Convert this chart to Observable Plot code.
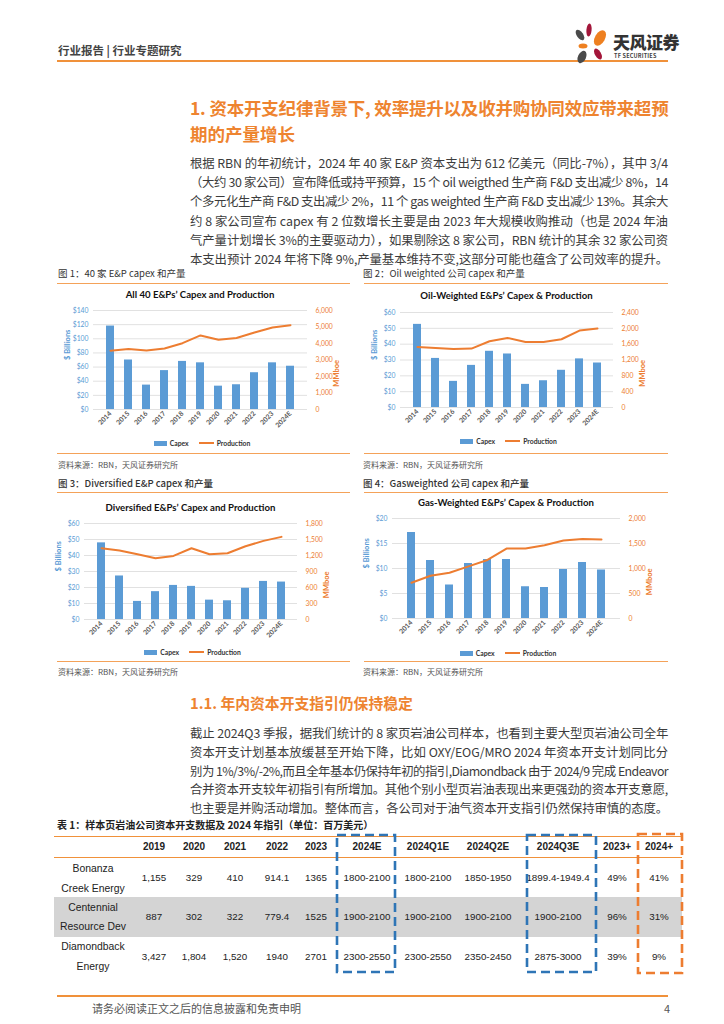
<!DOCTYPE html>
<html><head><meta charset="utf-8">
<script src="https://cdn.jsdelivr.net/npm/d3@7"></script>
<script src="https://cdn.jsdelivr.net/npm/@observablehq/plot@0.6"></script>
<style>
body{margin:0;background:#fff;}
#page{position:relative;width:724px;height:1024px;overflow:hidden;font-family:"Noto Sans CJK SC","Noto Sans",sans-serif;color:#3a3a3a;background:#fff;}
.abs{position:absolute;white-space:nowrap;}
.rule{position:absolute;height:0;}
.pline{position:absolute;left:190px;width:478px;font-size:12.4px;white-space:nowrap;text-align:justify;text-align-last:justify;color:#3c3c3c;line-height:16px;}
.tline{position:absolute;left:190px;width:478px;font-size:17.5px;font-weight:700;white-space:nowrap;color:#EE8430;line-height:22px;}
.cap{position:absolute;font-size:9.5px;color:#333;white-space:nowrap;line-height:12px;}
.src{position:absolute;font-size:8px;color:#555;white-space:nowrap;line-height:10px;}
.ctitle{position:absolute;width:300px;text-align:center;font-family:Lato,"Open Sans",sans-serif;font-weight:700;font-size:9.6px;color:#111;line-height:12px;}
.legend{position:absolute;width:200px;display:flex;justify-content:center;align-items:center;font-family:Lato,"Open Sans",sans-serif;font-size:6.8px;color:#333;font-weight:700;line-height:8px;}
.sw{display:inline-block;width:13px;height:5px;background:#5B9BD5;margin-right:3px;}
.ln{display:inline-block;width:15px;height:2px;background:#ED7D31;margin-right:3px;margin-left:10px;}
.chart{position:absolute;}
.cell{position:absolute;font-family:"Liberation Sans",Arial,sans-serif;font-size:9.8px;color:#222;white-space:nowrap;transform:translate(-50%,-50%);line-height:12px;}
.hcell{font-weight:700;font-size:10px;}
</style></head>
<body><div id="page"></div>
<script>
// ---------- data ----------
const years = ["2014","2015","2016","2017","2018","2019","2020","2021","2022","2023","2024E"];
const allCapex = [118,70,34.5,55,68,66,33,35,52,66,61.2];
const allProd  = [3560,3660,3580,3700,4020,4490,4230,4330,4670,4970,5110];
const oilCapex = [52.5,31,16.5,26.6,35.5,33.8,14.6,16.9,23.5,30.7,28.1];
const oilProd  = [1530,1505,1480,1488,1674,1758,1657,1657,1724,1944,1995];
const divCapex = [47.9,27.2,11.3,17.4,21.3,20.7,12.1,11.7,19.5,23.8,23.4];
const divProd  = [1336,1292,1223,1148,1192,1336,1223,1242,1374,1474,1549];
const gasCapex = [17.2,11.6,6.7,11.0,11.8,11.8,6.35,6.2,9.8,11.2,9.7];
const gasProd  = [716,856,916,1043,1171,1398,1398,1465,1559,1592,1579];

const allLeftTicks = [0,20,40,60,80,100,120,140];
const allRightTicks = [0,1000,2000,3000,4000,5000,6000];
const oilLeftTicks = [0,10,20,30,40,50,60];
const oilRightTicks = [0,400,800,1200,1600,2000,2400];
const divLeftTicks = [0,10,20,30,40,50,60];
const divRightTicks = [0,300,600,900,1200,1500,1800];
const gasLeftTicks = [0,5,10,15,20];
const gasRightTicks = [0,500,1000,1500,2000];

const chartTitles = ["All 40 E&Ps’ Capex and Production","Oil-Weighted E&Ps’ Capex & Production","Diversified E&Ps’ Capex and Production","Gas-Weighted E&Ps’ Capex & Production"];
const figCaptions = ["图 1：40 家 E&P capex 和产量","图 2：Oil weighted  公司 capex 和产量","图 3：Diversified E&P capex 和产量","图 4：Gasweighted 公司 capex 和产量"];
const sourceText = "资料来源：RBN，天风证券研究所";

const tableCaption = "表 1：样本页岩油公司资本开支数据及 2024 年指引（单位：百万美元）";
const tableHeaders = ["2019","2020","2021","2022","2023","2024E","2024Q1E","2024Q2E","2024Q3E","2023+","2024+"];
const companies = [["Bonanza","Creek Energy"],["Centennial","Resource Dev"],["Diamondback","Energy"]];
const rowBonanza = ["1,155","329","410","914.1","1365","1800-2100","1800-2100","1850-1950","1899.4-1949.4","49%","41%"];
const rowCentennial = ["887","302","322","779.4","1525","1900-2100","1900-2100","1900-2100","1900-2100","96%","31%"];
const rowDiamondback = ["3,427","1,804","1,520","1940","2701","2300-2550","2300-2550","2350-2450","2875-3000","39%","9%"];

const para1 = [
 "根据 RBN 的年初统计，2024 年 40 家 E&P 资本支出为 612 亿美元（同比-7%），其中 3/4",
 "（大约 30 家公司）宣布降低或持平预算，15 个 oil weigthed 生产商 F&D 支出减少 8%，14",
 "个多元化生产商 F&D 支出减少 2%，11 个 gas weighted 生产商 F&D 支出减少 13%。其余大",
 "约 8 家公司宣布 capex 有 2 位数增长主要是由 2023 年大规模收购推动（也是 2024 年油",
 "气产量计划增长 3%的主要驱动力），如果剔除这 8 家公司，RBN 统计的其余 32 家公司资",
 "本支出预计 2024 年将下降 9%,产量基本维持不变,这部分可能也蕴含了公司效率的提升。"
];
const para2 = [
 "截止 2024Q3 季报，据我们统计的 8 家页岩油公司样本，也看到主要大型页岩油公司全年",
 "资本开支计划基本放缓甚至开始下降，比如 OXY/EOG/MRO 2024 年资本开支计划同比分",
 "别为 1%/3%/-2%,而且全年基本仍保持年初的指引,Diamondback 由于 2024/9 完成 Endeavor",
 "合并资本开支较年初指引有所增加。其他个别小型页岩油表现出来更强劲的资本开支意愿,",
 "也主要是并购活动增加。整体而言，各公司对于油气资本开支指引仍然保持审慎的态度。"
];

// ---------- helpers ----------
const page = document.getElementById("page");
function el(tag, cls, style, text){const e=document.createElement(tag); if(cls) e.className=cls; if(style) e.setAttribute("style",style); if(text!=null) e.textContent=text; page.appendChild(e); return e;}
function rule(x0,x1,y,color,w){el("div","rule",`left:${x0}px;width:${x1-x0}px;top:${y}px;border-top:${w}px solid ${color};`);}
// fit a justified line into its box
function fitLine(e){
  const w = 478;
  let fs = parseFloat(getComputedStyle(e).fontSize), ls = 0;
  e.style.textAlignLast = "left";
  while (e.scrollWidth > w && ls > -0.8) { ls -= 0.1; e.style.letterSpacing = ls + "px"; }
  while (e.scrollWidth > w && fs > 10) { fs -= 0.2; e.style.fontSize = fs + "px"; }
  e.style.textAlignLast = "justify";
}

// header
el("div","abs","left:58px;top:43px;font-size:11.5px;font-weight:700;color:#444;line-height:15px;","行业报告 | 行业专题研究");
rule(57,668,60,"#F0913A",2);
const logo = document.createElementNS("http://www.w3.org/2000/svg","svg");
logo.setAttribute("width","44");logo.setAttribute("height","44");
logo.setAttribute("style","position:absolute;left:569px;top:21px;");
logo.innerHTML = `
<ellipse cx="11" cy="14" rx="3.2" ry="6" fill="#4a4a4a" transform="rotate(-35 11 14)"/>
<ellipse cx="20" cy="9" rx="2.6" ry="6.5" fill="#A3163A" transform="rotate(5 20 9)"/>
<ellipse cx="31" cy="17" rx="5" ry="8.5" fill="#EE8020" transform="rotate(30 31 17)"/>
<ellipse cx="14" cy="25" rx="4.5" ry="2.5" fill="#EE8020"/>
<ellipse cx="29" cy="33" rx="3" ry="6" fill="#A3163A" transform="rotate(-30 29 33)"/>
<ellipse cx="13" cy="36" rx="4" ry="6.5" fill="#4a4a4a" transform="rotate(25 13 36)"/>`;
page.appendChild(logo);
el("div","abs","left:613px;top:33px;font-size:17px;font-weight:900;color:#333;letter-spacing:-0.5px;line-height:18px;","天风证券");
el("div","abs","left:614px;top:53px;font-size:5.5px;font-weight:700;color:#444;letter-spacing:0.2px;line-height:6px;","TF SECURITIES");

// title
fitLine(el("div","tline","top:97px;text-align:justify;text-align-last:justify;","1. 资本开支纪律背景下, 效率提升以及收并购协同效应带来超预"));
el("div","tline","top:123px;","期的产量增长");
para1.forEach((t,i)=>fitLine(el("div","pline",`top:${155+i*19.2}px;`,t)));

// figure captions, rules, sources
const fx = [[57,350,58],[364,668,363]];
[[0,274,283,453,465],[1,274,283,453,465],[2,484,492,661,672],[3,484,492,661,672]].forEach(([i,cy,r1,r2,sy])=>{
  const [a,b,tx] = fx[i%2];
  el("div","cap",`left:${tx}px;top:${cy-7}px;${i>=2?"font-weight:500;":""}`,figCaptions[i]);
  rule(a,b,r1,"#F4A259",1.5);
  rule(a,b,r2,"#F4A259",1.5);
  el("div","src",`left:${tx}px;top:${sy-5}px;`,sourceText);
});

// ---------- charts ----------
function makeChart(capex, prod, leftTicks, rightTicks, px0, px1, py0, py1, title, titleY, legendY){
  const lmax = leftTicks[leftTicks.length-1], rmax = rightTicks[rightTicks.length-1], k = lmax/rmax;
  const data = years.map((y,i)=>({year:y, capex:capex[i], prod:prod[i]*k}));
  const mL=40, mR=48, mT=6, mB=30;
  const svg = Plot.plot({
    width:(px1-px0)+mL+mR, height:(py1-py0)+mT+mB,
    marginLeft:mL, marginRight:mR, marginTop:mT, marginBottom:mB,
    style:{fontFamily:"Lato, 'Open Sans', sans-serif", fontSize:"6.8px", background:"transparent", overflow:"visible"},
    x:{domain:years, padding:0.56, label:null, axis:null},
    y:{domain:[0,lmax], label:null, axis:null},
    marks:[
      Plot.gridY(leftTicks,{stroke:"#d9d9d9",strokeOpacity:1,strokeWidth:0.8}),
      Plot.barY(data,{x:"year",y:"capex",fill:"#5B9BD5"}),
      Plot.lineY(data,{x:"year",y:"prod",stroke:"#ED7D31",strokeWidth:2}),
      Plot.axisY(leftTicks,{anchor:"left",tickSize:0,tickPadding:5,tickFormat:d=>"$"+d,fill:"#5B9BD5",label:null}),
      Plot.axisY(rightTicks.map(v=>v*k),{anchor:"right",tickSize:0,tickPadding:8,tickFormat:d=>d3.format(",")(Math.round(d/k)),fill:"#ED7D31",label:null}),
      Plot.axisX({tickSize:0,tickRotate:-45,tickPadding:3,fill:"#595959",label:null,fontWeight:"bold"}),
      Plot.text(["$ Billions"],{frameAnchor:"left",rotate:-90,dx:-26,fill:"#5B9BD5",fontWeight:"bold",fontSize:7.5}),
      Plot.text(["MMboe"],{frameAnchor:"right",rotate:-90,dx:29,fill:"#ED7D31",fontWeight:"bold",fontSize:7.5})
    ]
  });
  svg.setAttribute("class","chart");
  svg.style.left=(px0-mL)+"px"; svg.style.top=(py0-mT)+"px"; svg.style.position="absolute";
  page.appendChild(svg);
  const cx=(px0+px1)/2;
  el("div","ctitle",`left:${cx-150}px;top:${titleY-6}px;`,title);
  const lg = el("div","legend",`left:${cx-100+2}px;top:${legendY-4}px;`);
  lg.innerHTML = `<span class="sw"></span><span>Capex</span><span class="ln"></span><span>Production</span>`;
}
makeChart(allCapex, allProd, allLeftTicks, allRightTicks, 93, 307, 310, 409, chartTitles[0], 295, 443);
makeChart(oilCapex, oilProd, oilLeftTicks, oilRightTicks, 400, 613, 312, 407, chartTitles[1], 296, 441);
makeChart(divCapex, divProd, divLeftTicks, divRightTicks, 84, 297, 523, 619, chartTitles[2], 508, 652);
makeChart(gasCapex, gasProd, gasLeftTicks, gasRightTicks, 392, 620, 518, 618, chartTitles[3], 503, 653);

// section 1.1
el("div","tline","top:692px;font-size:14.8px;","1.1. 年内资本开支指引仍保持稳定");
para2.forEach((t,i)=>fitLine(el("div","pline",`top:${725+i*18.8}px;`,t)));

// ---------- table ----------
el("div","abs","left:57px;top:818px;font-size:10px;font-weight:700;color:#222;line-height:14px;",tableCaption);
el("div","abs","left:54px;top:897px;width:628px;height:40px;background:#D4D4D4;");
rule(54,682,836,"#F0913A",1.5);
rule(54,682,857,"#F0913A",1.5);
const colX = [154,194,235,277,316,367,428,488,558,617,659];
const rowY = [878,917,957];
const nameY = [[869,889],[908,927],[947,967]];
tableHeaders.forEach((h,i)=>el("div","cell hcell",`left:${colX[i]}px;top:847px;`,h));
[rowBonanza,rowCentennial,rowDiamondback].forEach((r,j)=>{
  r.forEach((v,i)=>el("div","cell",`left:${colX[i]}px;top:${rowY[j]}px;`,v));
  companies[j].forEach((n,m)=>el("div","cell",`left:93px;top:${nameY[j][m]}px;font-size:10.4px;`,n));
});
const boxes = document.createElementNS("http://www.w3.org/2000/svg","svg");
boxes.setAttribute("width","724");boxes.setAttribute("height","200");
boxes.setAttribute("style","position:absolute;left:0;top:820px;");
boxes.innerHTML = `
<rect x="337" y="15" width="58" height="137" fill="none" stroke="#2E75B6" stroke-width="2.6" stroke-dasharray="9 5"/>
<rect x="527" y="15" width="69" height="137" fill="none" stroke="#2E75B6" stroke-width="2.6" stroke-dasharray="9 5"/>
<rect x="638" y="14" width="44" height="139" fill="none" stroke="#ED7D31" stroke-width="2.6" stroke-dasharray="9 5"/>`;
page.appendChild(boxes);

// footer
rule(57,668,995,"#F0913A",2);
el("div","abs","left:92px;top:1001px;font-size:11px;color:#555;line-height:14px;","请务必阅读正文之后的信息披露和免责申明");
el("div","abs","left:664px;top:1001px;font-size:11px;color:#555;line-height:14px;","4");
</script></body></html>
